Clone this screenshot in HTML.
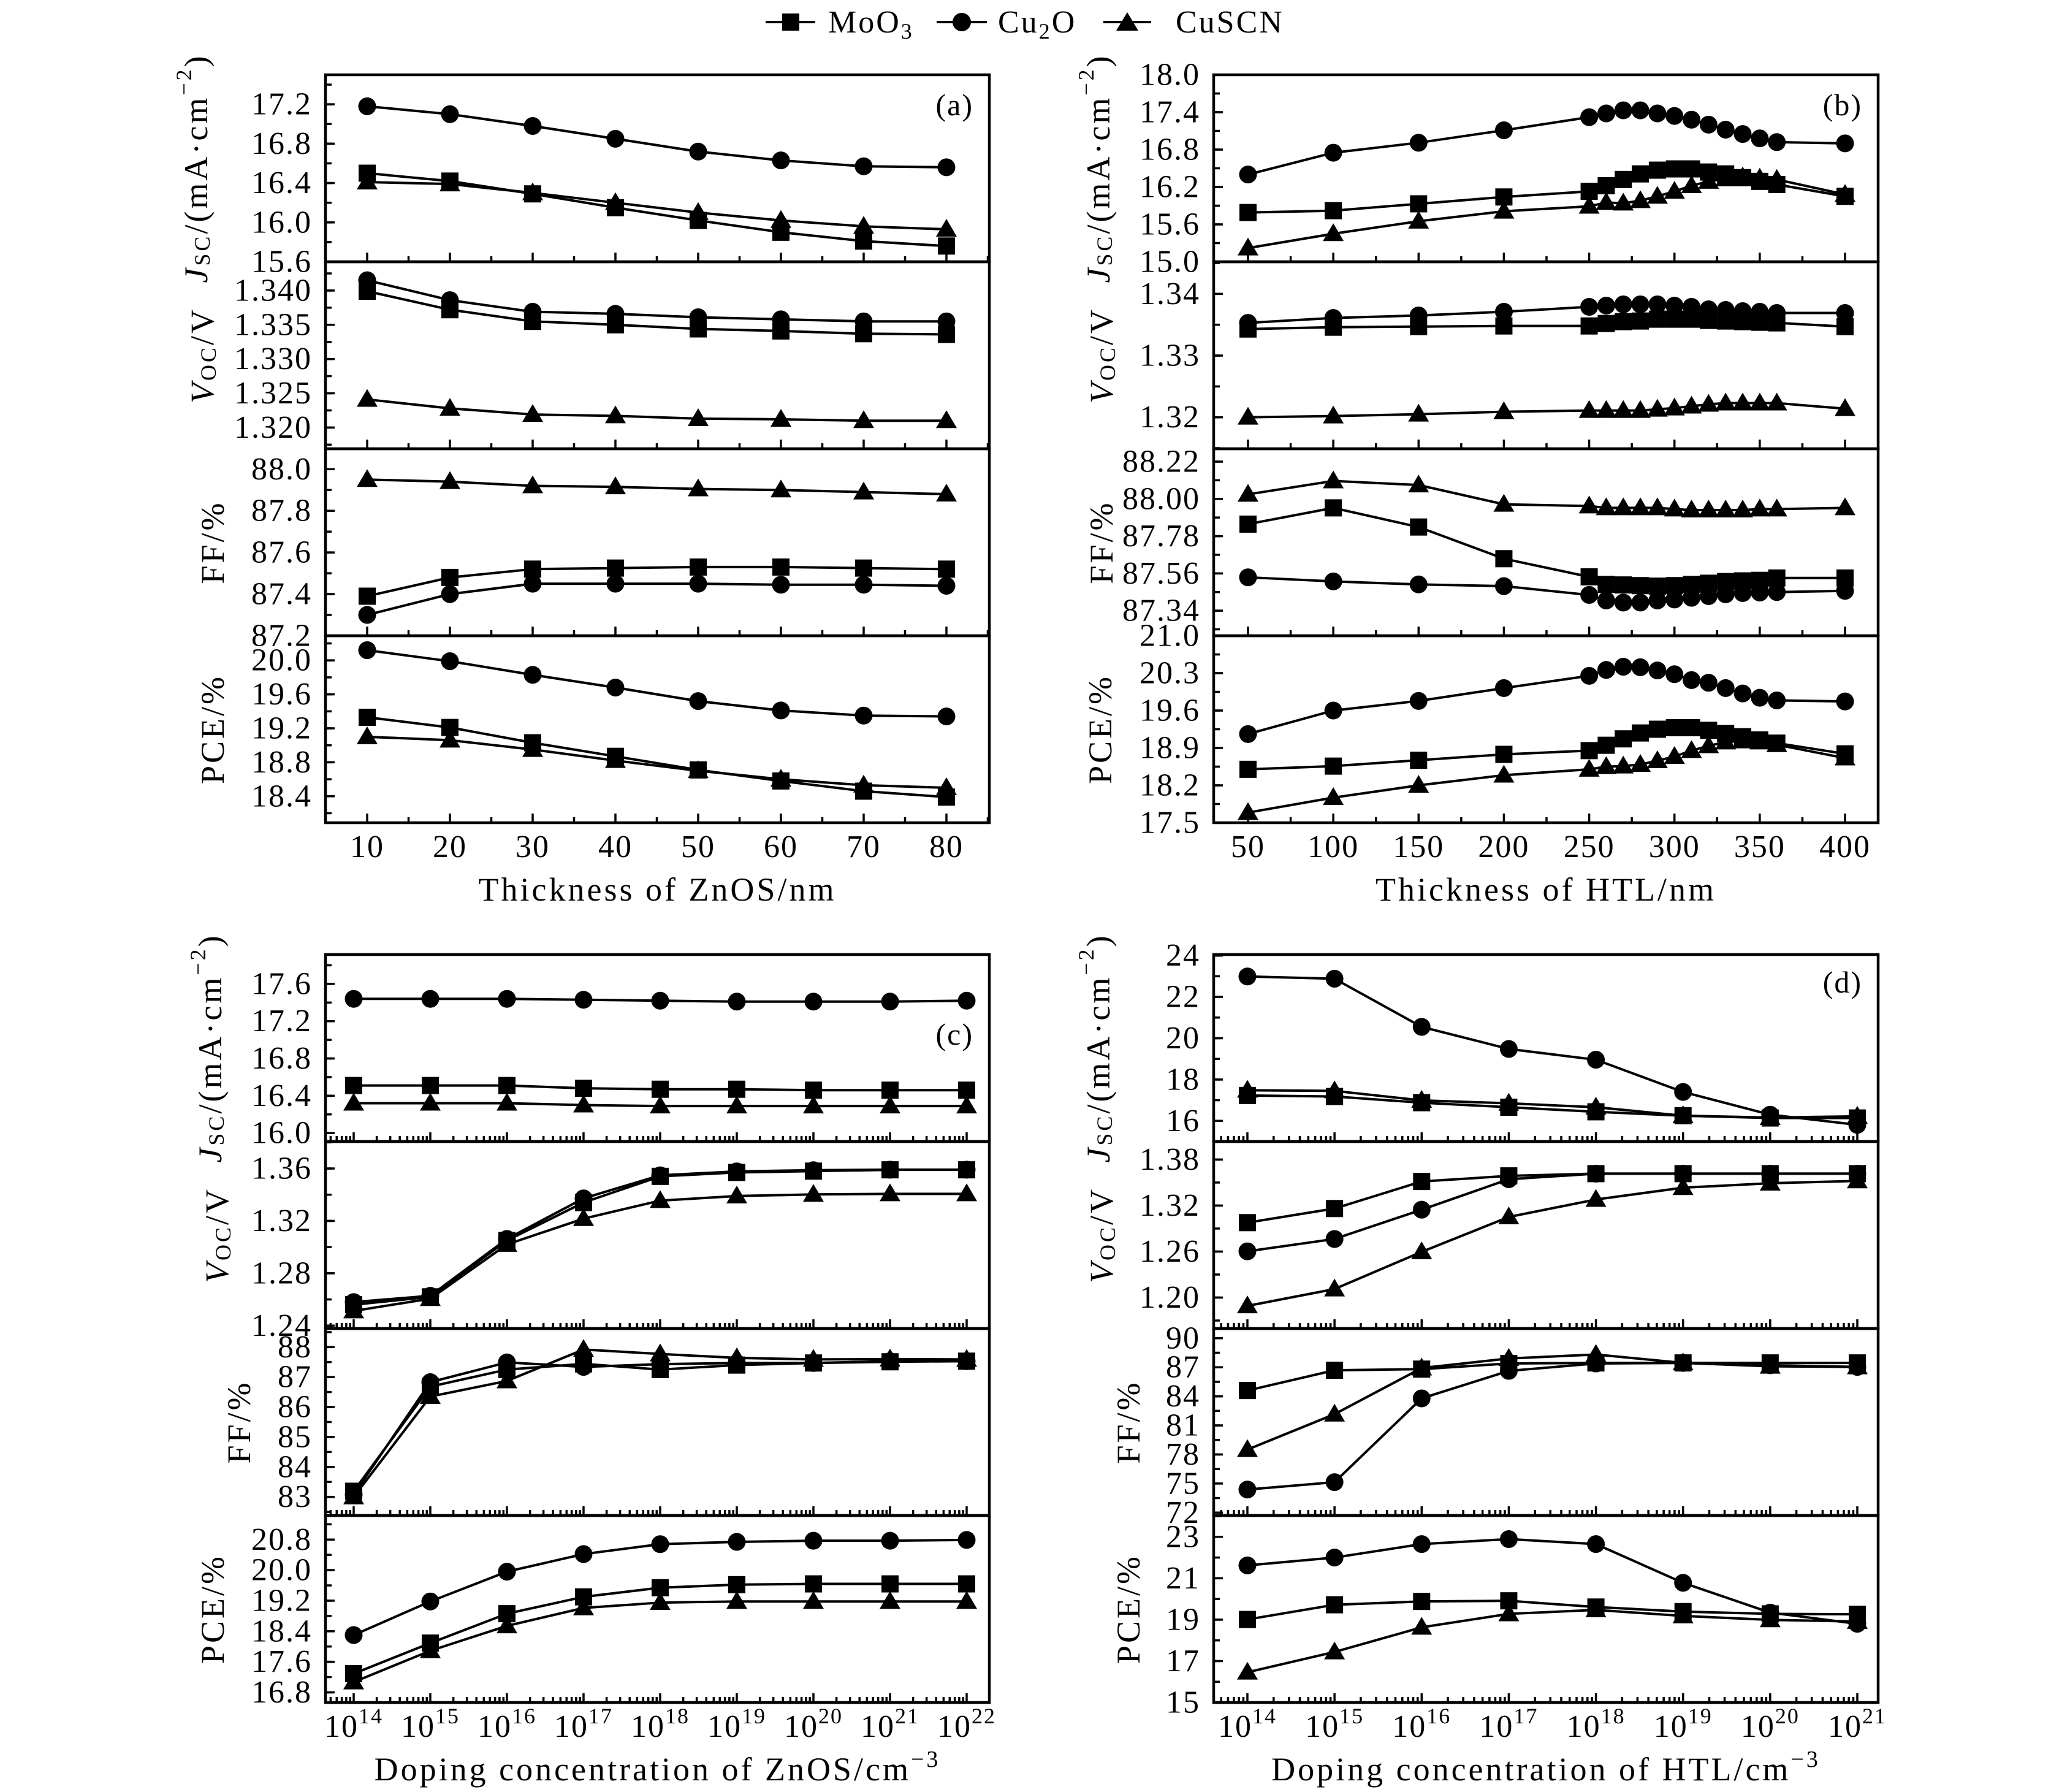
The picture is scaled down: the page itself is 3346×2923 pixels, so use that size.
<!DOCTYPE html>
<html><head><meta charset="utf-8">
<style>
html,body{margin:0;padding:0;background:#fff;}
svg{display:block;font-family:"Liberation Serif",serif;}
</style></head>
<body>
<svg id="chart" xmlns="http://www.w3.org/2000/svg" width="3346" height="2923" viewBox="0 0 3346 2923">
<rect width="3346" height="2923" fill="#fff"/>
<g id="legend">
  <g>
    <line x1="1249" y1="36" x2="1330" y2="36" stroke="#000" stroke-width="4"/>
    <rect x="1276" y="22" width="28" height="28" fill="#000"/>
    <text x="1351" y="53" font-size="52" letter-spacing="3">MoO<tspan font-size="36" dy="10">3</tspan></text>
  </g>
  <g>
    <line x1="1528" y1="36" x2="1610" y2="36" stroke="#000" stroke-width="4"/>
    <circle cx="1569" cy="36" r="15" fill="#000"/>
    <text x="1628" y="53" font-size="52" letter-spacing="3">Cu<tspan font-size="36" dy="10">2</tspan><tspan dy="-10">O</tspan></text>
  </g>
  <g>
    <line x1="1800" y1="36" x2="1878" y2="36" stroke="#000" stroke-width="4"/>
    <polygon points="1839,20 1857,50 1821,50" fill="#000"/>
    <text x="1918" y="53" font-size="52" letter-spacing="3">CuSCN</text>
  </g>
</g>
</svg>
<script>
// ---------- data ----------
const xA = [10,20,30,40,50,60,70,80];
const xB = [50,100,150,200,250,260,270,280,290,300,310,320,330,340,350,360,400];
const xC = [14,15,16,17,18,19,20,21,22];
const xD = [14,15,16,17,18,19,20,21];

const aJscMoO3 = [16.5,16.42,16.29,16.15,16.02,15.9,15.81,15.76];
const aJscCu2O = [17.18,17.1,16.98,16.85,16.72,16.63,16.57,16.56];
const aJscCuSCN = [16.41,16.39,16.3,16.2,16.1,16.02,15.96,15.93];
const aVocMoO3 = [1.3399,1.3372,1.3355,1.3350,1.3344,1.3341,1.3337,1.3336];
const aVocCu2O = [1.3415,1.3386,1.3369,1.3366,1.3361,1.3358,1.3355,1.3355];
const aVocCuSCN = [1.3241,1.3228,1.3219,1.3217,1.3213,1.3212,1.3210,1.3210];
const aFFMoO3 = [87.39,87.48,87.52,87.525,87.53,87.53,87.525,87.52];
const aFFCu2O = [87.30,87.40,87.45,87.45,87.45,87.445,87.445,87.44];
const aFFCuSCN = [87.95,87.94,87.92,87.915,87.905,87.9,87.89,87.88];
const aPCEMoO3 = [19.33,19.21,19.03,18.87,18.71,18.58,18.46,18.39];
const aPCECu2O = [20.12,19.99,19.83,19.68,19.52,19.41,19.35,19.34];
const aPCECuSCN = [19.10,19.06,18.95,18.82,18.70,18.60,18.53,18.50];

const bJscCu2O = [16.40,16.75,16.91,17.11,17.32,17.38,17.43,17.43,17.38,17.34,17.28,17.20,17.12,17.05,16.98,16.92,16.90];
const bJscMoO3 = [15.79,15.82,15.93,16.04,16.13,16.22,16.32,16.41,16.47,16.49,16.49,16.44,16.41,16.35,16.29,16.24,16.05];
const bJscCuSCN = [15.22,15.45,15.65,15.81,15.89,15.95,15.94,15.98,16.05,16.13,16.22,16.29,16.33,16.36,16.34,16.32,16.08];
const bVocCu2O = [1.3353,1.3361,1.3365,1.3371,1.3379,1.3381,1.3383,1.3383,1.3383,1.3381,1.3379,1.3375,1.3374,1.3372,1.3371,1.3369,1.3369];
const bVocMoO3 = [1.3343,1.3346,1.3347,1.3348,1.3348,1.3352,1.3355,1.3356,1.3359,1.3359,1.3359,1.3357,1.3356,1.3355,1.3354,1.3353,1.3347];
const bVocCuSCN = [1.3200,1.3202,1.3205,1.3209,1.3211,1.3211,1.3211,1.3211,1.3213,1.3215,1.3218,1.3221,1.3223,1.3223,1.3223,1.3223,1.3214];
const bFFCuSCN = [88.027,88.106,88.082,87.968,87.958,87.947,87.947,87.947,87.947,87.94,87.934,87.934,87.934,87.934,87.94,87.94,87.947];
const bFFMoO3 = [87.851,87.947,87.834,87.647,87.54,87.495,87.492,87.488,87.485,87.488,87.495,87.502,87.512,87.516,87.519,87.533,87.533];
const bFFCu2O = [87.537,87.513,87.495,87.485,87.433,87.40,87.388,87.388,87.40,87.406,87.416,87.426,87.437,87.444,87.447,87.450,87.457];
const bPCECu2O = [19.16,19.60,19.78,20.02,20.25,20.36,20.42,20.41,20.35,20.28,20.17,20.12,20.02,19.92,19.84,19.79,19.77];
const bPCEMoO3 = [18.50,18.56,18.67,18.78,18.85,18.95,19.07,19.18,19.25,19.28,19.28,19.23,19.17,19.11,19.05,18.99,18.79];
const bPCECuSCN = [17.69,17.97,18.20,18.39,18.50,18.55,18.56,18.59,18.66,18.74,18.85,18.94,19.01,19.03,19.01,18.96,18.71];

const cJscCu2O = [17.44,17.44,17.44,17.43,17.42,17.41,17.41,17.41,17.42];
const cJscMoO3 = [16.51,16.51,16.51,16.48,16.47,16.47,16.46,16.46,16.46];
const cJscCuSCN = [16.32,16.32,16.32,16.30,16.29,16.29,16.29,16.29,16.29];
const cVocCu2O = [1.258,1.2628,1.3062,1.3372,1.3548,1.3578,1.3587,1.3591,1.3591];
const cVocMoO3 = [1.256,1.262,1.305,1.334,1.354,1.357,1.358,1.359,1.359];
const cVocCuSCN = [1.2512,1.2606,1.302,1.3217,1.3355,1.339,1.3402,1.3406,1.3406];
const cFFCu2O = [83.08,86.83,87.49,87.34,87.43,87.47,87.47,87.53,87.53];
const cFFMoO3 = [83.19,86.68,87.25,87.44,87.25,87.40,87.47,87.51,87.53];
const cFFCuSCN = [83.0,86.35,86.87,87.92,87.77,87.64,87.59,87.6,87.59];
const cPCECu2O = [18.30,19.18,19.96,20.42,20.68,20.74,20.77,20.77,20.79];
const cPCEMoO3 = [17.29,18.09,18.86,19.30,19.54,19.62,19.64,19.64,19.64];
const cPCECuSCN = [17.07,17.89,18.54,19.01,19.15,19.18,19.18,19.18,19.18];

const dJscCu2O = [22.99,22.88,20.55,19.48,18.96,17.40,16.30,15.81];
const dJscMoO3 = [17.23,17.18,16.88,16.66,16.44,16.25,16.14,16.14];
const dJscCuSCN = [17.48,17.45,16.99,16.85,16.66,16.25,16.16,16.22];
const dVocMoO3 = [1.2977,1.3161,1.3514,1.3587,1.3616,1.3616,1.3616,1.3616];
const dVocCu2O = [1.2603,1.2764,1.3146,1.3543,1.3616,1.3616,1.3616,1.3616];
const dVocCuSCN = [1.1891,1.2111,1.2596,1.3051,1.3279,1.3433,1.3491,1.3521];
const dFFMoO3 = [84.6,86.69,86.81,87.39,87.45,87.45,87.45,87.45];
const dFFCu2O = [74.38,75.14,83.79,86.63,87.39,87.45,87.21,87.04];
const dFFCuSCN = [78.5,82.16,86.92,87.91,88.32,87.45,87.1,87.04];
const dPCECu2O = [21.62,22.0,22.65,22.89,22.65,20.78,19.34,18.80];
const dPCEMoO3 = [19.01,19.72,19.88,19.91,19.61,19.39,19.28,19.26];
const dPCECuSCN = [16.46,17.44,18.63,19.28,19.47,19.18,18.99,18.91];

// tick labels
const aXTicks = [10,20,30,40,50,60,70,80];
const bXTicks = [50,100,150,200,250,300,350,400];
const cXTicks = [14,15,16,17,18,19,20,21,22];
const dXTicks = [14,15,16,17,18,19,20,21];
const aJscTicks = ["15.6","16.0","16.4","16.8","17.2"];
const aVocTicks = ["1.320","1.325","1.330","1.335","1.340"];
const aFFTicks = ["87.2","87.4","87.6","87.8","88.0"];
const aPCETicks = ["18.4","18.8","19.2","19.6","20.0"];
const bJscTicks = ["15.0","15.6","16.2","16.8","17.4","18.0"];
const bVocTicks = ["1.32","1.33","1.34"];
const bFFTicks = ["87.34","87.56","87.78","88.00","88.22"];
const bPCETicks = ["17.5","18.2","18.9","19.6","20.3","21.0"];
const cJscTicks = ["16.0","16.4","16.8","17.2","17.6"];
const cVocTicks = ["1.24","1.28","1.32","1.36"];
const cFFTicks = ["83","84","85","86","87","88"];
const cPCETicks = ["16.8","17.6","18.4","19.2","20.0","20.8"];
const dJscTicks = ["16","18","20","22","24"];
const dVocTicks = ["1.20","1.26","1.32","1.38"];
const dFFTicks = ["72","75","78","81","84","87","90"];
const dPCETicks = ["15","17","19","21","23"];

// ---------- drawing ----------
const NS = "http://www.w3.org/2000/svg";
const svg = document.getElementById('chart');
function mk(tag, attrs, parent){
  const e = document.createElementNS(NS, tag);
  for (const k in attrs) e.setAttribute(k, attrs[k]);
  (parent||svg).appendChild(e);
  return e;
}
const SUBH = 305;
const TFS = 52;   // tick font size
const AFS = 54;   // axis title font size
const panels = [
  {id:'a', left:531, right:1614, top:122, x0:10, x1:80, px0:599, px1:1544, log:false, xt:aXTicks, minorStep:5,
   title:'Thickness of ZnOS/nm', lab:'(a)', labY:188,
   subs:[
    {k:'jsc', lo:15.6, hi:17.5, step:0.4, ticks:aJscTicks, s:[aJscMoO3,aJscCu2O,aJscCuSCN], tx:320},
    {k:'voc', lo:1.3169, hi:1.3442, step:0.005, ticks:aVocTicks, s:[aVocMoO3,aVocCu2O,aVocCuSCN], tx:330},
    {k:'ff', lo:87.2, hi:88.098, step:0.2, ticks:aFFTicks, s:[aFFMoO3,aFFCu2O,aFFCuSCN], tx:347},
    {k:'pce', lo:18.088, hi:20.29, step:0.4, ticks:aPCETicks, s:[aPCEMoO3,aPCECu2O,aPCECuSCN], tx:347}]},
  {id:'b', left:1980, right:3064, top:122, x0:50, x1:400, px0:2036, px1:3010, log:false, xt:bXTicks, minorStep:25,
   title:'Thickness of HTL/nm', lab:'(b)', labY:188,
   subs:[
    {k:'jsc', lo:15.0, hi:18.0, step:0.6, ticks:bJscTicks, s:[bJscMoO3,bJscCu2O,bJscCuSCN], tx:1792},
    {k:'voc', lo:1.3149, hi:1.3452, step:0.01, ticks:bVocTicks, s:[bVocMoO3,bVocCu2O,bVocCuSCN], tx:1797},
    {k:'ff', lo:87.192, hi:88.296, step:0.22, ticks:bFFTicks, s:[bFFMoO3,bFFCu2O,bFFCuSCN], tx:1797},
    {k:'pce', lo:17.5, hi:21.0, step:0.7, ticks:bPCETicks, s:[bPCEMoO3,bPCECu2O,bPCECuSCN], tx:1795}]},
  {id:'c', left:531, right:1614, top:1557, x0:14, x1:22, px0:577, px1:1577, log:true, xt:cXTicks,
   title:'Doping concentration of ZnOS/cm', lab:'(c)', labY:1704,
   subs:[
    {k:'jsc', lo:15.909, hi:17.915, step:0.4, ticks:cJscTicks, s:[cJscMoO3,cJscCu2O,cJscCuSCN], tx:343},
    {k:'voc', lo:1.2378, hi:1.3806, step:0.04, ticks:cVocTicks, s:[cVocMoO3,cVocCu2O,cVocCuSCN], tx:354},
    {k:'ff', lo:82.38, hi:88.62, step:1, ticks:cFFTicks, s:[cFFMoO3,cFFCu2O,cFFCuSCN], tx:390},
    {k:'pce', lo:16.535, hi:21.43, step:0.8, ticks:cPCETicks, s:[cPCEMoO3,cPCECu2O,cPCECuSCN], tx:347}]},
  {id:'d', left:1980, right:3064, top:1557, x0:14, x1:21, px0:2035, px1:3030, log:true, xt:dXTicks,
   title:'Doping concentration of HTL/cm', lab:'(d)', labY:1619,
   subs:[
    {k:'jsc', lo:15.0, hi:24.05, step:2, ticks:dJscTicks, s:[dJscMoO3,dJscCu2O,dJscCuSCN], tx:1792},
    {k:'voc', lo:1.1596, hi:1.4035, step:0.06, ticks:dVocTicks, s:[dVocMoO3,dVocCu2O,dVocCuSCN], tx:1797},
    {k:'ff', lo:71.7, hi:91.0, step:3, ticks:dFFTicks, s:[dFFMoO3,dFFCu2O,dFFCuSCN], tx:1841},
    {k:'pce', lo:15.0, hi:24.03, step:2, ticks:dPCETicks, s:[dPCEMoO3,dPCECu2O,dPCECuSCN], tx:1841}]}
];
const xsets = {a:xA,b:xB,c:xC,d:xD};
const seriesNames = ['moo3','cu2o','cuscn'];

function titleText(g, k, x, y){
  const t = mk('text', {x:0, y:0, 'font-size':AFS, 'letter-spacing':4, 'text-anchor':'middle', 'dominant-baseline':'central',
    transform:`translate(${x},${y}) rotate(-90)`}, g);
  
  
  if (k==='jsc'){
    t.innerHTML = '<tspan font-style="italic">J</tspan><tspan font-size="36" dy="10">SC</tspan><tspan dy="-10">/(mA·cm</tspan><tspan font-size="36" dy="-20">−2</tspan><tspan dy="20">)</tspan>';
  } else if (k==='voc'){
    t.innerHTML = '<tspan font-style="italic">V</tspan><tspan font-size="36" dy="10">OC</tspan><tspan dy="-10">/V</tspan>';
  } else if (k==='ff'){ t.textContent = 'FF/%'; }
  else { t.textContent = 'PCE/%'; }
}

function marker(g, type, x, y){
  let m;
  if (type===0) m = mk('rect', {x:x-14, y:y-14, width:28, height:28, fill:'#000'}, g);
  else if (type===1) m = mk('circle', {cx:x, cy:y, r:14.5, fill:'#000'}, g);
  else m = mk('polygon', {points:`${x},${y-17} ${x+17},${y+12} ${x-17},${y+12}`, fill:'#000'}, g);
  return m;
}

panels.forEach(p => {
  const pg = mk('g', {});
  
  
  const xv = xsets[p.id];
  const X = v => p.px0 + (v - p.x0) / (p.x1 - p.x0) * (p.px1 - p.px0);
  const bottom = p.top + 4*SUBH;

  p.subs.forEach((s, si) => {
    const sg = mk('g', {}, pg);
    
    
    const t0 = p.top + si*SUBH, t1 = t0 + SUBH;
    const Y = v => t1 - (v - s.lo) / (s.hi - s.lo) * SUBH;
    for (let i = Math.ceil(s.lo/(s.step/2) - 1e-6); i*(s.step/2) <= s.hi + 1e-9; i++){
      const v = i*(s.step/2);
      const yy = Y(v);
      if (yy < t0+1 || yy > t1-1) continue;
      mk('line', {x1:p.left, x2:p.left + 10, y1:yy, y2:yy, stroke:'#000', 'stroke-width':3.5}, sg);
    }
    s.ticks.forEach(lbl => {
      const yy = Y(parseFloat(lbl));
      const tl = mk('text', {x:p.left-22, y:yy, 'font-size':TFS, 'letter-spacing':2, 'text-anchor':'end', 'dominant-baseline':'central'}, sg);
      
      
      tl.textContent = lbl;
      if (yy > t0+1 && yy < t1-1)
        mk('line', {x1:p.left, x2:p.left+15, y1:yy, y2:yy, stroke:'#000', 'stroke-width':3.5}, sg);
    });
    if (!p.log){
      for (let v = p.x0 - p.minorStep*2; v <= p.x1 + p.minorStep*2; v += p.minorStep){
        const xx = X(v);
        if (xx <= p.left+2 || xx >= p.right-2) continue;
        const major = p.xt.indexOf(v) >= 0;
        mk('line', {x1:xx, x2:xx, y1:t1, y2:t1-(major?15:9), stroke:'#000', 'stroke-width':3.5}, sg);
      }
    } else {
      for (let e = p.x0 - 1; e <= p.x1; e++){
        for (let m = 1; m <= 9; m++){
          const xx = X(e + Math.log10(m));
          if (xx <= p.left+2 || xx >= p.right-2) continue;
          mk('line', {x1:xx, x2:xx, y1:t1, y2:t1-(m===1?15:9), stroke:'#000', 'stroke-width':3.5}, sg);
        }
      }
    }
    titleText(sg, s.k, s.tx, (t0+t1)/2);
    s.s.forEach((arr, k) => {
      const gg = mk('g', {}, sg);
      
      
      const pts = arr.map((v, i) => X(xv[i]) + ',' + Y(v)).join(' ');
      mk('polyline', {points:pts, fill:'none', stroke:'#000', 'stroke-width':4}, gg);
      arr.forEach((v, i) => {
        const m = marker(gg, k, X(xv[i]), Y(v));
        
        
      });
    });
    mk('rect', {x:p.left, y:t0, width:p.right-p.left, height:SUBH, fill:'none', stroke:'#000', 'stroke-width':4.5}, sg);
  });

  p.xt.forEach(v => {
    const t = mk('text', {x:X(v), y:bottom+56, 'font-size':TFS, 'letter-spacing':2, 'text-anchor':'middle'}, pg);
    
    
    if (p.log) t.innerHTML = '10<tspan font-size="36" dy="-22">' + v + '</tspan>';
    else t.textContent = v;
  });
  const xt = mk('text', {x:(p.left+p.right)/2, y:bottom+127, 'font-size':AFS, 'letter-spacing':4, 'text-anchor':'middle'}, pg);
  
  
  if (p.log) xt.innerHTML = p.title + '<tspan font-size="38" dy="-22">−3</tspan>';
  else xt.textContent = p.title;
  const lb = mk('text', {x:p.right-26, y:p.labY, 'font-size':50, 'letter-spacing':2, 'text-anchor':'end'}, pg);
  
  
  lb.textContent = p.lab;
});
</script>
</body></html>
